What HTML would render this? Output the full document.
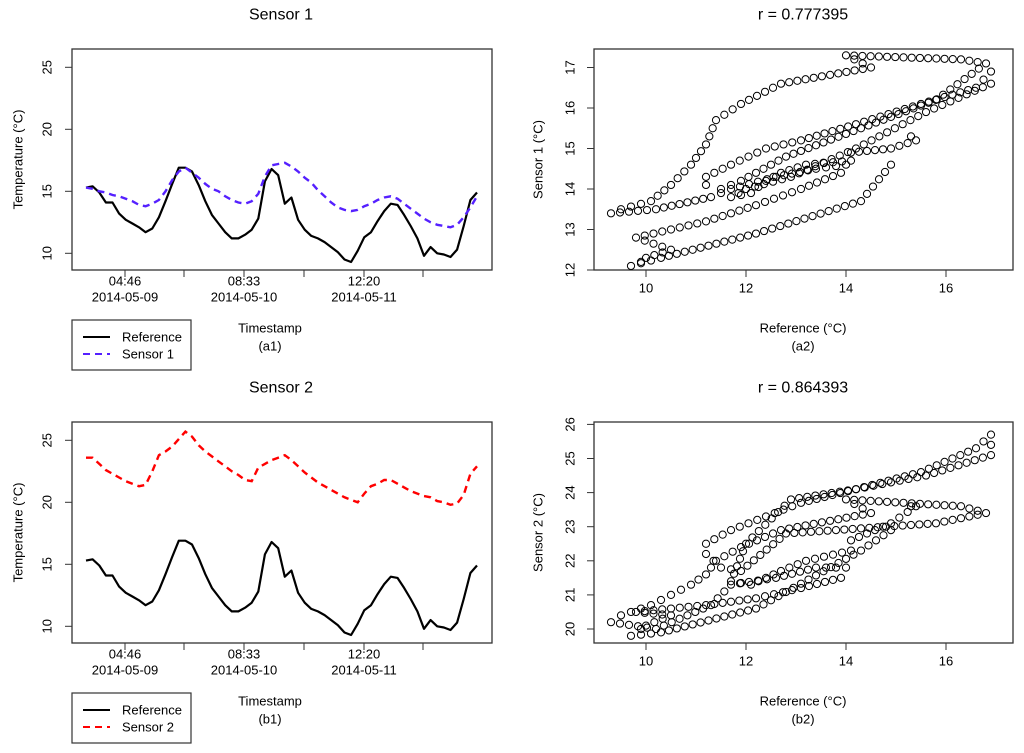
<!DOCTYPE html>
<html><head><meta charset="utf-8"><style>
html,body{margin:0;padding:0;background:#fff;}
svg{display:block;font-family:"Liberation Sans",Arial,sans-serif;}
</style></head><body>
<svg id="chart" width="1024" height="753" viewBox="0 0 1024 753" xmlns="http://www.w3.org/2000/svg"></svg>
<script>
// ---- data ----
const timeTickLabels = ["04:46", "08:33", "12:20"];
const timeTickDates = ["2014-05-09", "2014-05-10", "2014-05-11"];
const tempTicks = [10, 15, 20, 25];
const s1Ticks = [12, 13, 14, 15, 16, 17];
const s2Ticks = [20, 21, 22, 23, 24, 25, 26];
const refTicks = [10, 12, 14, 16];
const reference = [15.3,15.4,14.9,14.1,14.1,13.2,12.7,12.4,12.1,11.7,12.0,12.9,14.2,15.6,16.9,16.9,16.6,15.5,14.2,13.1,12.4,11.7,11.2,11.2,11.5,11.9,12.8,15.8,16.8,16.3,14.0,14.5,12.7,11.9,11.4,11.2,10.9,10.5,10.1,9.5,9.3,10.2,11.3,11.7,12.6,13.4,14.0,13.9,13.1,12.2,11.2,9.8,10.5,10.0,9.9,9.7,10.3,12.2,14.3,14.9];
const sensor1 = [15.3,15.2,15.0,14.9,14.7,14.6,14.4,14.2,13.9,13.8,14.0,14.3,15.0,15.9,16.6,16.9,16.5,16.1,15.6,15.2,15.0,14.6,14.3,14.1,14.0,14.2,14.8,16.2,17.1,17.2,17.3,17.0,16.6,16.1,15.7,15.1,14.6,14.1,13.7,13.5,13.4,13.5,13.8,14.0,14.3,14.5,14.6,14.4,14.0,13.6,13.2,12.8,12.5,12.3,12.2,12.1,12.3,12.9,13.7,14.6];
const sensor2 = [23.6,23.6,23.1,22.6,22.3,22.0,21.7,21.5,21.3,21.4,22.5,23.8,24.1,24.5,25.1,25.7,25.3,24.6,24.1,23.7,23.3,22.9,22.5,22.2,21.8,21.7,22.8,23.1,23.4,23.6,23.8,23.4,22.9,22.4,22.0,21.6,21.3,21.0,20.7,20.4,20.2,20.0,20.7,21.3,21.5,21.8,21.8,21.5,21.2,20.9,20.7,20.5,20.4,20.1,20.0,19.8,19.9,20.6,22.3,22.9];
const titles = ["Sensor 1", "r = 0.777395", "Sensor 2", "r = 0.864393"];

const NS = "http://www.w3.org/2000/svg";
const svg = document.getElementById("chart");
function mk(tag, attrs, parent, text) {
  const e = document.createElementNS(NS, tag);
  for (const k in attrs) e.setAttribute(k, attrs[k]);
  if (text !== undefined) e.textContent = text;
  (parent || svg).appendChild(e);
  return e;
}
function txt(x, y, s, size, parent, rot, name) {
  const t = mk("text", {x: x, y: y, "font-size": size, "text-anchor": "middle", "dominant-baseline": "central", fill: "#000"}, parent, s);
  if (rot) t.setAttribute("transform", "rotate(-90 " + x + " " + y + ")");
  
  
  return t;
}

function timePanel(dy, sensor, color, label, sub, title, yname) {
  const g = mk("g", {});
  
  
  const L = 72, R = 492, T = 49 + dy, B = 270 + dy;
  const yS = v => (253.3 + dy) - (v - 10) * 12.4;
  const n = reference.length;
  const xS = i => 86 + i * (477 - 86) / (n - 1);
  txt(281, 15 + dy, title, 16, g, false, 'panel-title');
  const box = mk("rect", {x: L, y: T, width: R - L, height: B - T, fill: "none", stroke: "#333", "stroke-width": 1.3}, g);
  
  
  tempTicks.forEach(v => {
    mk("line", {x1: L - 7, x2: L, y1: yS(v), y2: yS(v), stroke: "#333"}, g);
    txt(47, yS(v), String(v), 13, g, true, 'y-tick-label');
  });
  txt(18, (T + B) / 2, "Temperature (°C)", 13, g, true, 'y-axis-title');
  const tickX = [125, 184, 244, 304, 364, 423];
  tickX.forEach(x => mk("line", {x1: x, x2: x, y1: B, y2: B + 7, stroke: "#333"}, g));
  timeTickLabels.forEach((s, i) => {
    const x = tickX[i * 2];
    txt(x, B + 11, s, 13, g, false, 'x-tick-time');
    txt(x, B + 27, timeTickDates[i], 13, g, false, 'x-tick-date');
  });
  txt(270, 328 + dy, "Timestamp", 13, g, false, 'x-axis-title');
  txt(270, 346 + dy, sub, 13, g, false, 'panel-caption');
  const pts = a => a.map((v, i) => xS(i).toFixed(1) + "," + yS(v).toFixed(1)).join(" ");
  const l1 = mk("polyline", {points: pts(reference), fill: "none", stroke: "#000", "stroke-width": 2.2, "stroke-linejoin": "round"}, g);
  
  
  const l2 = mk("polyline", {points: pts(sensor), fill: "none", stroke: color, "stroke-width": 2.4, "stroke-dasharray": "7,5"}, g);
  
  
  const lg = mk("g", {}, g);
  
  
  mk("rect", {x: 72, y: 320 + dy, width: 119, height: 50, fill: "#fff", stroke: "#333", "stroke-width": 1.2}, lg);
  mk("line", {x1: 83, x2: 110, y1: 337 + dy, y2: 337 + dy, stroke: "#000", "stroke-width": 2}, lg);
  mk("line", {x1: 83, x2: 110, y1: 354 + dy, y2: 354 + dy, stroke: color, "stroke-width": 2, "stroke-dasharray": "7,5"}, lg);
  const t1 = mk("text", {x: 122, y: 337 + dy, "font-size": 13, "dominant-baseline": "central"}, lg, "Reference");
  
  
  const t2 = mk("text", {x: 122, y: 354 + dy, "font-size": 13, "dominant-baseline": "central"}, lg, label);
  
  
}

function scatterPanel(dy, sensor, ticks, y0, yv0, pxPer, yTitle, sub, title, B) {
  const g = mk("g", {});
  
  
  const L = 594, R = 1013, T = 49 + dy;
  const xS = v => 646 + (v - 10) * 50;
  const yS = v => y0 - (v - yv0) * pxPer;
  txt(803, 15 + dy, title, 16, g, false, 'panel-title');
  const box = mk("rect", {x: L, y: T, width: R - L, height: B - T, fill: "none", stroke: "#333", "stroke-width": 1.3}, g);
  
  
  ticks.forEach(v => {
    mk("line", {x1: L - 7, x2: L, y1: yS(v), y2: yS(v), stroke: "#333"}, g);
    txt(570, yS(v), String(v), 13, g, true, 'y-tick-label');
  });
  refTicks.forEach(v => {
    mk("line", {x1: xS(v), x2: xS(v), y1: B, y2: B + 7, stroke: "#333"}, g);
    txt(xS(v), B + 18, String(v), 13, g, false, 'x-tick-label');
  });
  txt(538, (T + B) / 2, yTitle, 13, g, true, 'y-axis-title');
  txt(803, 328 + dy, "Reference (°C)", 13, g, false, 'x-axis-title');
  txt(803, 346 + dy, sub, 13, g, false, 'panel-caption');
  for (let i = 0; i < reference.length; i++) {
    const x1 = xS(reference[i]), y1 = yS(sensor[i]);
    const c = mk("circle", {cx: x1, cy: y1, r: 3.6, fill: "none", stroke: "#000", "stroke-width": 1}, g);
    
    
    if (i + 1 < reference.length) {
      const x2 = xS(reference[i + 1]), y2 = yS(sensor[i + 1]);
      const d = Math.hypot(x2 - x1, y2 - y1);
      const k = Math.floor(d / 8);
      for (let j = 1; j < k; j++) {
        const f = j / k;
        const c2 = mk("circle", {cx: x1 + (x2 - x1) * f, cy: y1 + (y2 - y1) * f, r: 3.6, fill: "none", stroke: "#000", "stroke-width": 1}, g);
        
        
      }
    }
  }
}

timePanel(0, sensor1, "#5520ff", "Sensor 1", "(a1)", titles[0], 'sensor1');
timePanel(373, sensor2, "#ff0000", "Sensor 2", "(b1)", titles[2], 'sensor2');
scatterPanel(0, sensor1, s1Ticks, 270, 12, 40.5, "Sensor 1 (°C)", "(a2)", titles[1], 270);
scatterPanel(373, sensor2, s2Ticks, 629, 20, 34.1, "Sensor 2 (°C)", "(b2)", titles[3], 643);
</script>
</body></html>
